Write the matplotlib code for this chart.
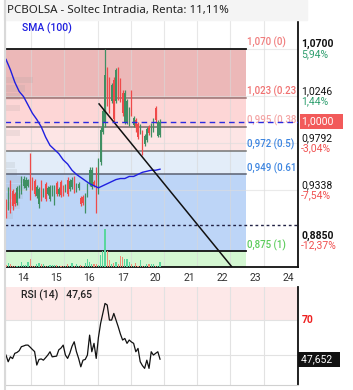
import matplotlib
matplotlib.use("Agg")
import matplotlib.pyplot as plt
from matplotlib.patches import Rectangle
from matplotlib.lines import Line2D
from matplotlib.transforms import blended_transform_factory

plt.rcParams['font.family'] = ['Roboto', 'DejaVu Sans']

title = "PCBOLSA - Soltec Intradia, Renta: 11,11%"
day_labels = ["14", "15", "16", "17", "20", "21", "22", "23", "24"]

opens = [
    0.921, 0.917, 0.941, 0.933, 0.930, 0.921, 0.928, 0.932, 0.938, 0.936,
    0.938, 0.944, 0.944, 0.943, 0.928, 0.920, 0.942, 0.929, 0.940, 0.930,
    0.925, 0.930, 0.921, 0.941, 0.930, 0.942, 0.937, 0.934, 0.944, 0.935,
    0.937, 0.945, 0.934, 0.936, 0.926, 0.927, 0.914, 0.929, 0.940, 0.937,
    0.942, 0.953, 0.934, 0.961, 0.990, 1.000, 1.050, 1.040, 1.020, 1.040,
    1.020, 1.050, 1.040, 1.028, 1.000, 1.000, 0.998, 1.027, 0.997, 1.001,
    0.998, 0.990, 0.990, 0.978, 0.982, 0.995, 0.987, 0.992, 1.013, 0.986,
    0.987]
closes = [
    0.910, 0.934, 0.915, 0.918, 0.920, 0.936, 0.937, 0.945, 0.945, 0.944,
    0.944, 0.926, 0.936, 0.930, 0.937, 0.935, 0.925, 0.934, 0.925, 0.936,
    0.937, 0.937, 0.937, 0.930, 0.935, 0.929, 0.930, 0.938, 0.930, 0.943,
    0.944, 0.933, 0.939, 0.940, 0.920, 0.921, 0.929, 0.939, 0.953, 0.953,
    0.939, 0.935, 0.962, 0.992, 1.010, 1.045, 1.018, 1.011, 1.035, 1.002,
    1.050, 1.024, 1.021, 1.008, 1.028, 1.020, 1.012, 1.008, 1.003, 0.995,
    0.985, 0.996, 0.974, 0.986, 0.993, 0.989, 0.997, 1.000, 1.001, 1.000,
    1.000]
highs = [
    0.925, 0.937, 0.944, 0.935, 0.932, 0.938, 0.939, 0.947, 0.947, 0.946,
    0.945, 0.970, 0.946, 0.945, 0.939, 0.937, 0.944, 0.936, 0.942, 0.938,
    0.939, 0.939, 0.939, 0.943, 0.937, 0.944, 0.939, 0.940, 0.946, 0.945,
    0.946, 0.947, 0.941, 0.942, 0.928, 0.929, 0.931, 0.941, 0.956, 0.956,
    0.944, 0.956, 0.965, 0.995, 1.012, 1.070, 1.053, 1.043, 1.037, 1.043,
    1.052, 1.053, 1.042, 1.030, 1.030, 1.022, 1.014, 1.030, 1.005, 1.003,
    1.000, 0.998, 0.992, 0.988, 0.995, 0.997, 0.999, 1.003, 1.015, 1.001,
    1.002]
lows = [
    0.907, 0.915, 0.912, 0.915, 0.918, 0.919, 0.926, 0.930, 0.936, 0.934,
    0.937, 0.924, 0.934, 0.928, 0.926, 0.917, 0.923, 0.927, 0.923, 0.929,
    0.923, 0.928, 0.919, 0.928, 0.928, 0.927, 0.928, 0.932, 0.928, 0.933,
    0.935, 0.931, 0.932, 0.934, 0.918, 0.919, 0.912, 0.927, 0.938, 0.935,
    0.937, 0.912, 0.930, 0.958, 0.988, 0.995, 1.015, 1.008, 1.018, 1.000,
    1.018, 1.021, 1.019, 1.005, 0.998, 0.998, 0.996, 1.005, 0.995, 0.990,
    0.983, 0.988, 0.968, 0.976, 0.980, 0.987, 0.985, 0.990, 0.999, 0.985,
    0.985]
volumes = [
    20, 40, 30, 10, 10, 10, 10, 50, 20, 20,
    50, 80, 10, 10, 30, 40, 30, 30, 10, 10,
    20, 20, 20, 20, 10, 10, 10, 10, 30, 10,
    40, 10, 30, 10, 20, 10, 40, 80, 50, 30,
    30, 30, 20, 120, 160, 380, 160, 70, 30, 40,
    50, 30, 110, 100, 80, 80, 50, 30, 10, 40,
    10, 70, 10, 10, 30, 30, 30, 30, 10, 10,
    50]
# SMA(100) sampled every second candle
sma_values = [1.060, 1.050, 1.038, 1.029, 1.024, 1.016, 1.008, 1.002, 0.995,
              0.985, 0.977, 0.973, 0.969, 0.963, 0.959, 0.953, 0.949, 0.946,
              0.943, 0.940, 0.938, 0.936, 0.938, 0.940, 0.942, 0.944, 0.945,
              0.945, 0.947, 0.947, 0.949, 0.951, 0.952, 0.953, 0.953, 0.954]
rsi_values = [
    50.0, 46.2, 49.0, 48.0, 51.0, 51.5, 52.5, 54.8, 55.2, 55.7,
    55.7, 54.5, 53.2, 52.0, 44.3, 47.5, 47.8, 47.1, 48.5, 50.0,
    51.9, 49.0, 49.2, 49.4, 53.0, 54.0, 55.7, 50.0, 48.1, 51.0,
    55.0, 57.6, 52.0, 48.1, 43.3, 47.1, 47.5, 50.0, 61.4, 51.9,
    56.7, 48.1, 60.0, 68.1, 73.8, 79.5, 78.6, 70.0, 70.0, 73.8,
    70.0, 66.2, 62.0, 58.6, 59.5, 56.7, 58.6, 57.5, 56.7, 51.9,
    53.8, 46.2, 44.0, 42.4, 47.1, 42.4, 51.9, 50.0, 51.0, 51.9,
    47.65]

fib_levels = [1.070, 1.023, 0.995, 0.972, 0.949, 0.875]
# labels as visible (cut at the plot edge)
fib_labels = ["1,070 (0)", "1,023 (0.23", "0,995 (0.38", "0,972 (0.5)",
              "0,949 (0.61", "0,875 (1)"]
axis_prices = [1.0700, 1.0246, 0.9792, 0.9338, 0.8850]
axis_price_text = ["1,0700", "1,0246", "0,9792", "0,9338", "0,8850"]
axis_pct_text = ["5,94%", "1,44%", "-3,04%", "-7,54%", "-12,37%"]
last_price = 1.0000
stop_level = 0.900
trend_x = [42.3, 102.7]
trend_y = [1.017, 0.8596]
profile_prices = [1.040, 1.032, 1.024, 1.013, 0.989, 0.958, 0.951, 0.944,
                  0.936, 0.928, 0.919, 0.909]
profile_sizes = [28, 20, 15, 15, 15, 10, 12, 18, 22, 18, 15, 8]
rsi_last = 47.652

GREEN = '#3f8f63'
RED = '#ef4a4a'
VGREEN = '#5ad69e'
VRED = '#ee8f78'

W, H = 353, 390
fig = plt.figure(figsize=(W / 100, H / 100), dpi=100)

def fx(px):
    return px / W

def fy(py):
    return 1 - py / H

ax = fig.add_axes([fx(5), fy(267), fx(293), 247 / H])
ax2 = fig.add_axes([fx(5), fy(385), fx(293), 98 / H])

xmin, xmax = -0.45, 132.7
ymin, ymax = 0.8596, 1.098
for a in (ax, ax2):
    a.set_xlim(xmin, xmax)
ax.set_ylim(ymin, ymax)
ax2.set_ylim(32.9, 88.9)

# title bar
fig.patches.append(Rectangle((fx(4), fy(20)), fx(303), 20 / H,
                             transform=fig.transFigure, color='#f4f4f4', zorder=0))
fig.text(fx(7), fy(11), title, fontsize=8.3, fontweight='semibold',
         family=['Noto Sans', 'DejaVu Sans'], color='#222222', va='center')
fig.add_artist(Line2D([fx(4.5), fx(4.5)], [0, 1], color='#d9d9d9', lw=1.5,
                      transform=fig.transFigure))

grid_x = [11.4 + 15.1 * k for k in range(9)]
tick_x = [7.7 + 15.1 * k for k in range(len(day_labels))]

# fib zones
fib_end = 109.1
zone_colors = ['#ecb8b8', '#fdd6d6', '#fde5e5', '#e3edf9', '#bdd5f7']
zone_edges = fib_levels + [ymin]
for i, c in enumerate(zone_colors):
    ax.fill_between([xmin, fib_end], zone_edges[i + 1], zone_edges[i],
                    color=c, lw=0, zorder=0)
ax.fill_between([xmin, fib_end], ymin, fib_levels[-1], color='#d4f7d2', lw=0, zorder=0)

line_colors = ['#111111', '#9a7474', '#7a6a6a', '#757575', '#5a6070', '#111111']
line_widths = [1.3, 1.1, 1.1, 1.1, 1.1, 1.3]
label_colors = ['#f07c7c', '#f07070', '#f4a6a6', '#3d85e0', '#3d85e0', '#5ccc5c']
for lvl, lab, lc, lw, tc in zip(fib_levels, fib_labels, line_colors, line_widths, label_colors):
    ax.plot([xmin, fib_end], [lvl, lvl], color=lc, lw=lw, zorder=1)
    ax.annotate(lab, xy=(fib_end + 0.4, lvl), xytext=(0, 4.5), textcoords='offset points',
                color=tc, fontsize=7, fontweight='medium', va='center', ha='left',
                annotation_clip=False)

# grid
for gx in grid_x:
    ax.axvline(gx, color='#d8d8d8', lw=0.8, alpha=0.6, zorder=0.5)
    ax2.axvline(gx, color='#e2e2e2', lw=0.8, zorder=0.5)
for gy in axis_prices[:4]:
    ax.axhline(gy, color='#dddddd', lw=0.8, alpha=0.6, zorder=0.5)

# volume profile
for p, s in zip(profile_prices, profile_sizes):
    ax.barh(p, s / 2.2, height=0.0065, left=xmin, color='#999999', alpha=0.15,
            lw=0, zorder=0.6)

# volume bars
axv = ax.twinx()
axv.set_ylim(0, 2470)
axv.set_xlim(xmin, xmax)
axv.axis('off')
xs = list(range(len(closes)))
vcols = [VGREEN if c >= o else VRED for o, c in zip(opens, closes)]
axv.bar(xs, volumes, width=0.55, color=vcols, lw=0)

# candles
ccols = [GREEN if c >= o else RED for o, c in zip(opens, closes)]
ax.vlines(xs, lows, highs, colors=ccols, lw=0.9, zorder=3)
bodies = [max(abs(c - o), 0.0015) for o, c in zip(opens, closes)]
ax.bar(xs, bodies, bottom=[min(o, c) for o, c in zip(opens, closes)],
       width=0.6, color=ccols, lw=0, zorder=3)

# SMA
ax.plot(xs[::2], sma_values, color='#1f1fe0', lw=1.0, zorder=4)
ax.text(fx(22 - 5) / fx(293), 1 - 8 / 247, "SMA (100)", transform=ax.transAxes,
        color='#1f1fe0', fontsize=7.5, fontweight='medium', va='center')

# trend line, last price, stop
ax.plot(trend_x, trend_y, color='#111111', lw=1.1, zorder=4)
ax.axhline(last_price, color='#2a2ae0', lw=1.0, ls=(0, (4, 3)), zorder=4)
ax.axhline(stop_level, color='#222244', lw=1.0, ls=(0, (2, 2)), zorder=4)

# axes styling
for a in (ax, ax2):
    a.set_yticks([])
    a.tick_params(length=0)
    a.spines['top'].set_visible(False)
    a.spines['left'].set_color('#d0d0d0')
    a.spines['right'].set_color('#111111')
    a.spines['right'].set_linewidth(1.3)
ax.spines['bottom'].set_color('#111111')
ax.spines['bottom'].set_linewidth(1.3)
ax2.spines['bottom'].set_color('#d0d0d0')
ax.set_xticks(tick_x)
ax.set_xticklabels(day_labels, fontsize=7.5, color='#333333')
ax.tick_params(axis='x', pad=4)
ax2.set_xticks([])

# right price scale
tr = blended_transform_factory(ax.transAxes, ax.transData)
for p, t, pct in zip(axis_prices, axis_price_text, axis_pct_text):
    bold = 'bold' if t in ("1,0700", "0,8850") else 'normal'
    ax.annotate(t, xy=(1, p), xycoords=tr, xytext=(2.2, 3.6), textcoords='offset points',
                fontsize=7.5, fontweight=bold, color='#111111', va='center', ha='left',
                annotation_clip=False)
    ax.annotate(pct, xy=(1, p), xycoords=tr, xytext=(2.2, -3.6), textcoords='offset points',
                fontsize=7.5, color='#2e9e6e' if not pct.startswith('-') else '#f05050',
                va='center', ha='left', annotation_clip=False)
ax.annotate("1,0000   ", xy=(1, last_price), xycoords=tr, xytext=(2.6, 0),
            textcoords='offset points', fontsize=7.5, color='white', va='center', ha='left',
            annotation_clip=False,
            bbox=dict(boxstyle='square,pad=0.2', fc='#f25a5a', ec='none'))

# RSI panel
ax2.axhspan(70, 88.9, color='#fde8e8', lw=0, zorder=0)
ax2.axhline(70, color='#e2e2e2', lw=0.8, zorder=0.5)
ax2.axhline(50, color='#e2e2e2', lw=0.8, zorder=0.5)
ax2.plot(xs, rsi_values, color='#111111', lw=0.9, zorder=3)
ax2.text(fx(21 - 5) / fx(293), 1 - 8 / 98, "RSI (14)   47,65", transform=ax2.transAxes,
         fontsize=7.5, fontweight='medium', color='#222222', va='center')
tr2 = blended_transform_factory(ax2.transAxes, ax2.transData)
ax2.annotate("70", xy=(1, 70), xycoords=tr2, xytext=(3, 0), textcoords='offset points',
             fontsize=7.5, fontweight='bold', color='#ee2020', va='center', ha='left',
             annotation_clip=False)
ax2.annotate("47,652  ", xy=(1, rsi_last), xycoords=tr2, xytext=(2, 0),
             textcoords='offset points', fontsize=7.5, color='white', va='center',
             ha='left', annotation_clip=False,
             bbox=dict(boxstyle='square,pad=0.25', fc='#111111', ec='none'))

fig.savefig('out.png', dpi=100)
